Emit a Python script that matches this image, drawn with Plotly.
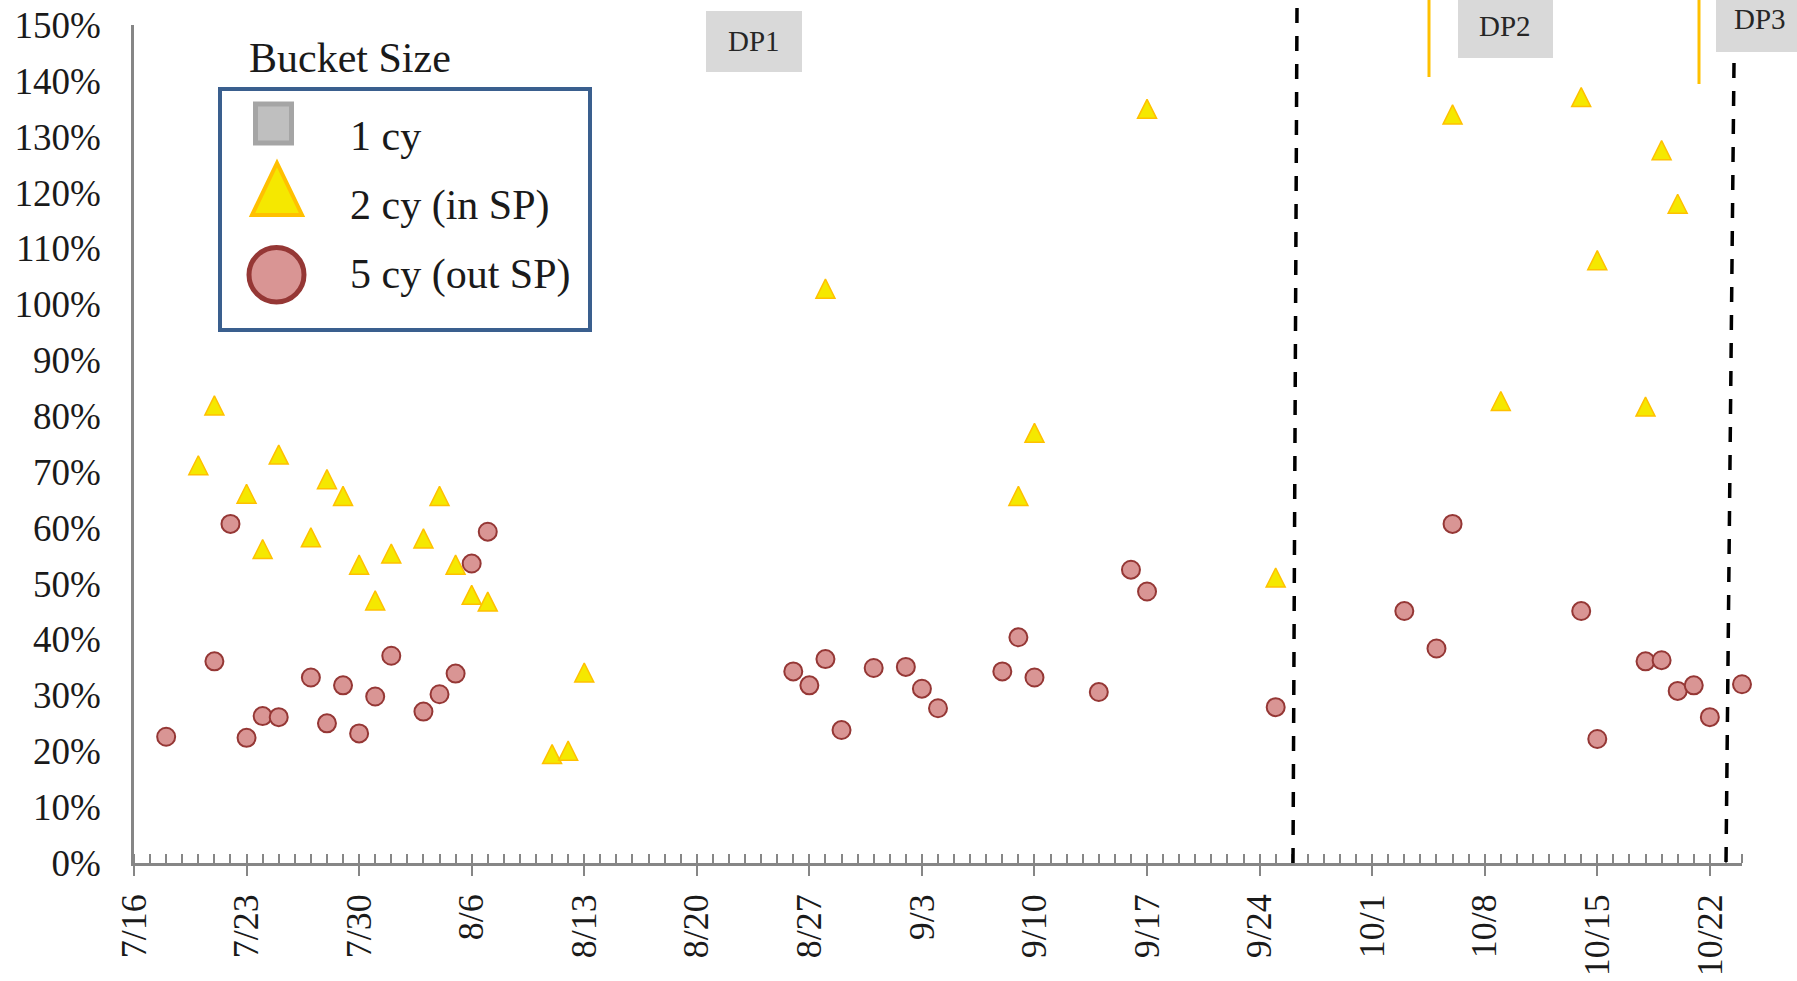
import plotly.graph_objects as go

# ---------------- data ----------------
YEAR = "2018"
tri_dates = ["7/20", "7/21", "7/23", "7/24", "7/25", "7/27", "7/28", "7/29", "7/30", "7/31",
             "8/1", "8/3", "8/4", "8/5", "8/6", "8/7", "8/11", "8/12", "8/13", "8/28",
             "9/9", "9/10", "9/17", "9/25", "10/6", "10/9", "10/14", "10/15", "10/18", "10/19", "10/20"]
tri_values = [71.2, 81.9, 66.1, 56.2, 73.1, 58.3, 68.7, 65.7, 53.4, 47.0,
              55.4, 58.1, 65.7, 53.4, 48.0, 46.8, 19.5, 20.1, 34.1, 102.8,
              65.7, 77.0, 135.0, 51.1, 134.0, 82.7, 137.1, 107.9, 81.7, 127.6, 118.0]

circ_dates = ["7/18", "7/21", "7/22", "7/23", "7/24", "7/25", "7/27", "7/28", "7/29", "7/30",
              "7/31", "8/1", "8/3", "8/4", "8/5", "8/6", "8/7", "8/26", "8/27", "8/28",
              "8/29", "8/31", "9/2", "9/3", "9/4", "9/8", "9/9", "9/10", "9/14", "9/16",
              "9/17", "9/25", "10/3", "10/5", "10/6", "10/14", "10/15", "10/18", "10/19", "10/20",
              "10/21", "10/22", "10/24"]
circ_values = [22.6, 36.1, 60.7, 22.4, 26.3, 26.1, 33.2, 25.0, 31.8, 23.2,
               29.8, 37.1, 27.1, 30.2, 33.9, 53.6, 59.3, 34.3, 31.8, 36.5,
               23.8, 34.9, 35.1, 31.2, 27.7, 34.3, 40.4, 33.2, 30.6, 52.5,
               48.6, 27.9, 45.1, 38.4, 60.7, 45.1, 22.2, 36.1, 36.3, 30.8,
               31.8, 26.1, 32.0]

one_dates = []
one_values = []

series_names = ["1 cy", "2 cy (in SP)", "5 cy (out SP)"]
legend_title = "Bucket Size"
dp_labels = ["DP1", "DP2", "DP3"]

x_start = "2018-07-16"
x_end = "2018-10-24"
y_min, y_max, y_step = 0, 150, 10


def to_iso(md):
    m, d = md.split("/")
    return f"{YEAR}-{int(m):02d}-{int(d):02d}"


FONT = "Liberation Serif"
AXIS_COLOR = "#868686"
TEXT_COLOR = "#1a1a1a"
DAY_MS = 86400000

# page geometry helpers (plot area in pixels)
W, H = 1797, 981
L, R, T, B = 134, 55, 25, 118
PW, PH = W - L - R, H - T - B


def px(x):
    return (x - L) / PW


def py(y):
    return (H - B - y) / PH


fig = go.Figure()

fig.add_trace(go.Scatter(
    x=[to_iso(d) for d in one_dates], y=one_values, name=series_names[0],
    mode="markers", xaxis="x2", showlegend=False,
    marker=dict(symbol="square", size=20, color="#BFBFBF",
                line=dict(color="#A5A5A5", width=3)),
))

fig.add_trace(go.Scatter(
    x=[to_iso(d) for d in tri_dates], y=tri_values, name=series_names[1],
    mode="markers", showlegend=False, cliponaxis=False,
    marker=dict(symbol="arrow-down", angle=180, standoff=9.5, size=19,
                color="#F5E800", line=dict(color="#FFC000", width=1.5)),
))

fig.add_trace(go.Scatter(
    x=[to_iso(d) for d in circ_dates], y=circ_values, name=series_names[2],
    mode="markers", showlegend=False, cliponaxis=False,
    marker=dict(symbol="circle", size=18, color="#D99594",
                line=dict(color="#953735", width=2)),
))

shapes = []
annotations = []

# dashed vertical separators (slightly slanted as drawn in the original)
for (xt, yt, xb) in [(1297, 8, 1293), (1734, 63, 1726)]:
    shapes.append(dict(type="line", xref="paper", yref="paper",
                       x0=px(xt), y0=py(yt), x1=px(xb), y1=py(H - B),
                       line=dict(color="black", width=3.5, dash="15px,13px")))

# orange markers at top
for (xo, yb) in [(1429, 77), (1699, 84)]:
    shapes.append(dict(type="line", xref="paper", yref="paper",
                       x0=px(xo), y0=py(-5), x1=px(xo), y1=py(yb),
                       line=dict(color="#FFC000", width=3)))

# DP boxes
dp_boxes = [((706, 11, 802, 72), (754, 41)),
            ((1458, -10, 1553, 58), (1505, 26)),
            ((1716, -10, 1810, 52), (1760, 19))]
for lab, ((x0, y0, x1, y1), (tx, ty)) in zip(dp_labels, dp_boxes):
    shapes.append(dict(type="rect", xref="paper", yref="paper",
                       x0=px(x0), y0=py(y1), x1=px(x1), y1=py(y0),
                       fillcolor="#D9D9D9", line=dict(width=0), layer="above"))
    annotations.append(dict(text=lab, xref="paper", yref="paper", x=px(tx), y=py(ty),
                            xanchor="center", yanchor="middle", showarrow=False,
                            font=dict(family=FONT, size=29, color="#262626")))

# custom legend
shapes.append(dict(type="rect", xref="paper", yref="paper",
                   x0=px(220), y0=py(330), x1=px(590), y1=py(89),
                   fillcolor="white", line=dict(color="#3A5F8E", width=4), layer="above"))
shapes.append(dict(type="rect", xref="paper", yref="paper",
                   x0=px(255.5), y0=py(143), x1=px(291.5), y1=py(104),
                   fillcolor="#BFBFBF", line=dict(color="#A5A5A5", width=5), layer="above"))
tri_path = "M {:.5f},{:.5f} L {:.5f},{:.5f} L {:.5f},{:.5f} Z".format(
    px(277), py(163), px(302), py(215), px(252), py(215))
shapes.append(dict(type="path", xref="paper", yref="paper", path=tri_path,
                   fillcolor="#F5E800", line=dict(color="#FFC000", width=4), layer="above"))
shapes.append(dict(type="circle", xref="paper", yref="paper",
                   x0=px(249), y0=py(302), x1=px(304), y1=py(247.5),
                   fillcolor="#D99594", line=dict(color="#953735", width=5), layer="above"))

annotations.append(dict(text=legend_title, xref="paper", yref="paper", x=px(350), y=py(58),
                        xanchor="center", yanchor="middle", showarrow=False,
                        font=dict(family=FONT, size=42, color=TEXT_COLOR)))
for name, yc in zip(series_names, [136, 205, 274]):
    annotations.append(dict(text=name, xref="paper", yref="paper", x=px(348), y=py(yc),
                            xanchor="left", yanchor="middle", showarrow=False,
                            font=dict(family=FONT, size=42, color=TEXT_COLOR)))

fig.update_layout(
    width=W, height=H,
    margin=dict(l=L, r=R, t=T, b=B, pad=0, autoexpand=False),
    plot_bgcolor="white", paper_bgcolor="white",
    showlegend=False,
    font=dict(family=FONT, color=TEXT_COLOR),
    xaxis=dict(
        type="date", range=[x_start, x_end], automargin=False,
        tick0=x_start, dtick=7 * DAY_MS, tickformat="%-m/%-d",
        tickangle=-90, tickfont=dict(family=FONT, size=36, color=TEXT_COLOR),
        ticks="outside", ticklen=10, tickwidth=2, tickcolor=AXIS_COLOR,
        ticklabelstandoff=4,
        minor=dict(ticks="inside", ticklen=9, tickwidth=2, tickcolor=AXIS_COLOR,
                   dtick=DAY_MS, tick0=x_start, showgrid=False),
        showline=True, linecolor=AXIS_COLOR, linewidth=2.5,
        showgrid=False, zeroline=False,
    ),
    xaxis2=dict(
        type="date", overlaying="x", matches="x", anchor="y", side="bottom",
        automargin=False,
        tick0=x_start, dtick=7 * DAY_MS,
        ticks="inside", ticklen=9, tickwidth=2, tickcolor=AXIS_COLOR,
        showticklabels=False, showline=False, showgrid=False, zeroline=False,
    ),
    yaxis=dict(
        range=[y_min, y_max], dtick=y_step, tick0=0, ticksuffix="%",
        automargin=False,
        tickfont=dict(family=FONT, size=37, color=TEXT_COLOR),
        ticks="", ticklabelstandoff=23,
        showline=True, linecolor=AXIS_COLOR, linewidth=2.5,
        showgrid=False, zeroline=False,
    ),
    shapes=shapes,
    annotations=annotations,
)

fig.write_html("out.html", config={"displayModeBar": False},
               post_script="document.body.style.margin='0';")
